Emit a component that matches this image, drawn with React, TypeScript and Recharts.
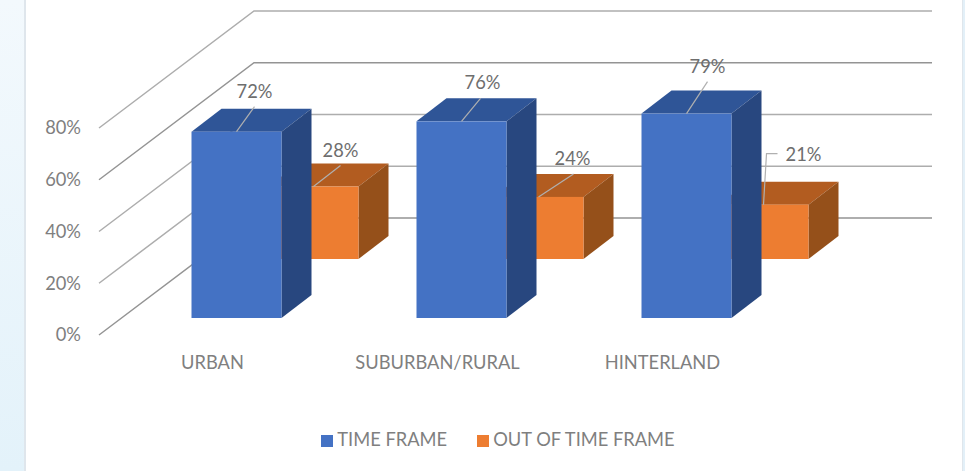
import React from "react";
import { BarChart, Bar, XAxis, YAxis, CartesianGrid, Legend, LabelList } from "recharts";

const categories = ["URBAN", "SUBURBAN/RURAL", "HINTERLAND"];
const timeFrame = [72, 76, 79];
const outOfTimeFrame = [28, 24, 21];
const yTicks = [0, 20, 40, 60, 80];

const data = categories.map((name, i) => ({
  name,
  timeFrame: timeFrame[i],
  outOfTimeFrame: outOfTimeFrame[i],
}));

const FONT = "Lato, 'Open Sans', sans-serif";
const TEXT = "#7f7f7f";
const FONT_SIZE = 18.3;
const DEPTH_X = 30;
const DEPTH_Y = 23;
const WALL_X = 155;
const WALL_Y = 117;
const WALL_END = 932;

const BLUE = { front: "#4472c4", top: "#2f5597", side: "#28477f", shiftX: -20.5, shiftY: -17 };
const ORANGE = { front: "#ed7d31", top: "#b25c20", side: "#95501a", shiftX: 146.5, shiftY: -76 };

const makeShape = (c: typeof BLUE) => (p: any) => {
  const x = p.x + c.shiftX;
  const y = p.y + c.shiftY;
  const w = p.width;
  const b = y + p.height;
  return (
    <g>
      <polygon points={`${x},${y} ${x + DEPTH_X},${y - DEPTH_Y} ${x + w + DEPTH_X},${y - DEPTH_Y} ${x + w},${y}`} fill={c.top} />
      <polygon points={`${x + w},${y} ${x + w + DEPTH_X},${y - DEPTH_Y} ${x + w + DEPTH_X},${b - DEPTH_Y} ${x + w},${b}`} fill={c.side} />
      <rect x={x} y={y} width={w} height={p.height} fill={c.front} />
    </g>
  );
};

// label centre and leader elbow, relative to the middle of the bar's front top edge
const blueLabels = [
  { lx: 18, ly: -41, line: [[18, -25]] },
  { lx: 21, ly: -39, line: [[19, -23]] },
  { lx: 21, ly: -48, line: [[21, -32]] },
];
const orangeLabels = [
  { lx: 27, ly: -37, line: [[27, -21]] },
  { lx: 34, ly: -39, line: [[35, -23]] },
  { lx: 40, ly: -51, line: [[3, -51], [14, -51]] },
];

const makeLabel = (c: typeof BLUE, table: typeof blueLabels) => (p: any) => {
  const cx = p.x + c.shiftX + p.width / 2;
  const cy = p.y + c.shiftY;
  const t = table[p.index];
  const pts = [[0, 0], ...t.line].map(([dx, dy]) => `${cx + dx},${cy + dy}`).join(" ");
  return (
    <g>
      <polyline points={pts} fill="none" stroke="#b0b0b0" strokeWidth={1.2} />
      <text x={cx + t.lx} y={cy + t.ly} textAnchor="middle" dominantBaseline="central" fontFamily={FONT} fontSize={FONT_SIZE} fill="#6e6e6e">
        {`${p.value}%`}
      </text>
    </g>
  );
};

const wallLine = (p: any) => {
  const dark = Math.round(p.y1) === 180 || Math.round(p.y1) === 335;
  return (
    <polyline
      key={p.key}
      points={`${p.x1},${p.y1} ${p.x1 + WALL_X},${p.y1 - WALL_Y} ${WALL_END},${p.y1 - WALL_Y}`}
      fill="none"
      stroke={dark ? "#949494" : "#adadad"}
      strokeWidth={1.5}
    />
  );
};

const legendOrder = (item: any) => (item.value === "TIME FRAME" ? 0 : 1);

export default function App() {
  return (
    <div style={{ position: "absolute", left: 0, top: 0, width: 965, height: 471, background: "#fff", overflow: "hidden" }}>
      <div style={{ position: "absolute", left: 0, top: 0, width: 24, height: 471, background: "linear-gradient(#f3f9fd, #e3f2fa)", borderRight: "2px solid #dfe6ec" }} />
      <div style={{ position: "absolute", left: 962, top: 0, width: 3, height: 471, background: "#e3f0f8", borderLeft: "1px solid #dfe6ec" }} />
      <div style={{ position: "absolute", left: 0, top: 0 }}>
        <BarChart
          width={965}
          height={471}
          data={data}
          margin={{ top: 128, right: 191, bottom: 0, left: 0 }}
          barSize={90}
          barGap={0}
          style={{ fontFamily: FONT }}
        >
          <CartesianGrid horizontal={wallLine} vertical={false} />
          <XAxis
            dataKey="name"
            height={136}
            axisLine={false}
            tickLine={false}
            tickSize={0}
            tickMargin={21}
            interval={0}
            tick={{ fill: TEXT, fontSize: FONT_SIZE, fontFamily: FONT, dx: 1 }}
          />
          <YAxis
            width={99}
            domain={[0, 80]}
            ticks={yTicks}
            axisLine={false}
            tickLine={false}
            tickSize={0}
            tickMargin={18}
            tickFormatter={(v: number) => `${v}%`}
            tick={{ fill: TEXT, fontSize: FONT_SIZE, fontFamily: FONT }}
          />
          <Legend
            layout="horizontal"
            verticalAlign="middle"
            iconType="square"
            iconSize={12}
            itemSorter={legendOrder}
            wrapperStyle={{ position: "absolute", left: 0, width: 1006, top: 428, bottom: "auto", fontSize: FONT_SIZE, fontFamily: FONT }}
            formatter={(v: string) => (
              <span style={{ color: TEXT, marginRight: v === "TIME FRAME" ? 20 : 0 }}>{v}</span>
            )}
          />
          <Bar dataKey="outOfTimeFrame" name="OUT OF TIME FRAME" fill={ORANGE.front} shape={makeShape(ORANGE)} isAnimationActive={false}>
            <LabelList dataKey="outOfTimeFrame" content={makeLabel(ORANGE, orangeLabels)} />
          </Bar>
          <Bar dataKey="timeFrame" name="TIME FRAME" fill={BLUE.front} shape={makeShape(BLUE)} isAnimationActive={false}>
            <LabelList dataKey="timeFrame" content={makeLabel(BLUE, blueLabels)} />
          </Bar>
        </BarChart>
      </div>
    </div>
  );
}
